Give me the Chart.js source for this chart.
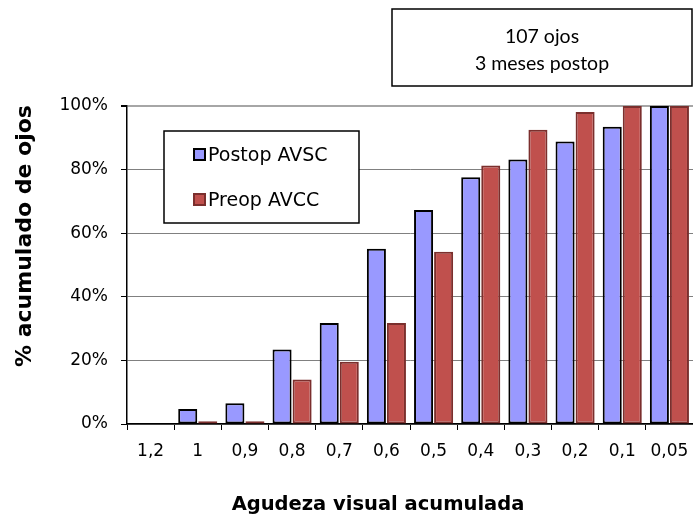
<!DOCTYPE html>
<html>
<head>
<meta charset="utf-8">
<script src="https://cdn.jsdelivr.net/npm/chart.js@4.4.1/dist/chart.umd.min.js"></script>
<style>
  html, body { margin: 0; padding: 0; background: #fff; }
  #chart { display: block; }
</style>
</head>
<body>
<canvas id="chart" width="693" height="520"></canvas>
<script>
// Agudeza visual acumulada, % de ojos
const categories = ['1,2', '1', '0,9', '0,8', '0,7', '0,6', '0,5', '0,4', '0,3', '0,2', '0,1', '0,05'];
const postopAVSC = [0, 4.7, 6.5, 23.4, 31.8, 55.1, 67.3, 77.6, 83.2, 88.8, 93.5, 100];
const preopAVCC = [0, 0.9, 0.9, 14.0, 19.6, 31.8, 54.2, 81.3, 92.5, 98.1, 100, 100];
const seriesNames = ['Postop AVSC', 'Preop AVCC'];
const noteLines = ['107 ojos', '3 meses postop'];
const xTitle = 'Agudeza visual acumulada';
const yTitle = '% acumulado de ojos';

const FONT = "'DejaVu Sans', Verdana, sans-serif";

// titles, legend box and the note box in the top right corner
const extras = {
  id: 'extras',
  afterDraw(chart) {
    const ctx = chart.ctx;
    ctx.save();

    // axis titles
    ctx.fillStyle = '#000';
    ctx.textAlign = 'center';
    ctx.textBaseline = 'middle';
    ctx.font = 'bold 19.5px ' + FONT;
    ctx.fillText(xTitle, 378, 505);
    ctx.save();
    ctx.translate(25, 236);
    ctx.rotate(-Math.PI / 2);
    ctx.font = 'bold 22px ' + FONT;
    ctx.fillText(yTitle, 0, 0);
    ctx.restore();

    // legend
    ctx.fillStyle = '#fff';
    ctx.fillRect(164, 131, 195, 92);
    ctx.strokeStyle = '#000';
    ctx.lineWidth = 1.5;
    ctx.strokeRect(164, 131, 195, 92);
    ctx.font = '19px ' + FONT;
    ctx.textAlign = 'left';
    const rows = [155, 200];
    chart.data.datasets.forEach((ds, i) => {
      const y = rows[i];
      ctx.fillStyle = ds.backgroundColor;
      ctx.fillRect(194, y - 6, 11, 11);
      ctx.strokeStyle = ds.borderColor;
      ctx.lineWidth = 2;
      ctx.strokeRect(194, y - 6, 11, 11);
      ctx.fillStyle = '#000';
      ctx.fillText(ds.label, 208, y + 1);
    });

    // note box
    ctx.fillStyle = '#fff';
    ctx.fillRect(392, 9, 300, 77);
    ctx.strokeStyle = '#000';
    ctx.lineWidth = 1.5;
    ctx.strokeRect(392, 9, 300, 77);
    ctx.fillStyle = '#000';
    ctx.font = "19.5px Lato, 'Open Sans', sans-serif";
    ctx.textAlign = 'center';
    ctx.fillText(noteLines[0], 542, 37);
    ctx.fillText(noteLines[1], 542, 64);

    ctx.restore();
  }
};

new Chart(document.getElementById('chart'), {
  type: 'bar',
  data: {
    labels: categories,
    datasets: [
      {
        label: seriesNames[0],
        data: postopAVSC,
        backgroundColor: '#9999FF',
        borderColor: '#000000',
        borderWidth: 2,
        borderSkipped: false,
      },
      {
        label: seriesNames[1],
        data: preopAVCC,
        backgroundColor: '#C0504D',
        borderColor: '#7B2F2D',
        borderWidth: 2,
        borderSkipped: false,
      },
    ],
  },
  plugins: [extras],
  options: {
    responsive: false,
    animation: false,
    datasets: {
      bar: { categoryPercentage: 0.85, barPercentage: 0.95 },
    },
    layout: { padding: { top: 106, left: 0, right: 0, bottom: 0 } },
    plugins: {
      legend: { display: false },
      tooltip: { enabled: false },
    },
    scales: {
      x: {
        offset: true,
        grid: {
          drawOnChartArea: false,
          tickLength: 6,
          tickColor: '#000',
        },
        border: { color: '#000', width: 1.5 },
        ticks: {
          color: '#000',
          font: { family: FONT, size: 17 },
          padding: 11,
          maxRotation: 0,
          autoSkip: false,
        },
        afterFit: (scale) => {
          scale.height = 96;
          scale.paddingLeft = 0;
          scale.paddingRight = 0;
        },
      },
      y: {
        min: 0,
        max: 100,
        grid: {
          color: (c) => (c.tick && c.tick.value === 100 ? '#a6a6a6' : '#808080'),
          lineWidth: (c) => (c.tick && c.tick.value === 100 ? 2 : 1),
          tickLength: 6,
          tickColor: '#000',
        },
        border: { color: '#000', width: 1.5 },
        ticks: {
          stepSize: 20,
          color: '#000',
          font: { family: FONT, size: 17 },
          padding: 13,
          callback: (v) => v + '%',
        },
        afterFit: (scale) => { scale.width = 127; },
      },
    },
  },
});
</script>
</body>
</html>
